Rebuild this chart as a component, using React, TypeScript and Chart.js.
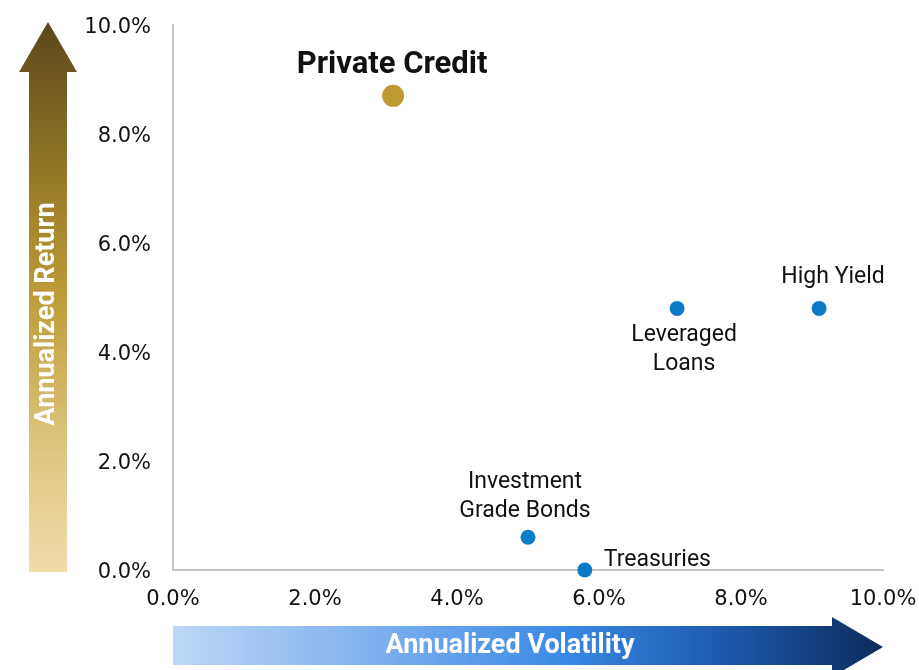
import React, { useEffect, useRef } from "react";
import { Chart, registerables } from "chart.js";

Chart.register(...registerables);

// ---- data ----
const assetNames = ["Private Credit", "Leveraged Loans", "High Yield", "Investment Grade Bonds", "Treasuries"];
const volatility = [3.1, 7.1, 9.1, 5.0, 5.8];
const annualReturn = [8.7, 4.8, 4.8, 0.6, 0.0];
const xTicks = [0, 2, 4, 6, 8, 10];
const yTicks = [0, 2, 4, 6, 8, 10];
const xTitle = "Annualized Volatility";
const yTitle = "Annualized Return";

// ---- styles ----
const labelLines: string[][] = [["Private Credit"], ["Leveraged", "Loans"], ["High Yield"], ["Investment", "Grade Bonds"], ["Treasuries"]];
const labelOffsets = [
  { dx: -1, dy: -31, align: "center" },
  { dx: 7, dy: 27, align: "center" },
  { dx: 14, dy: -31, align: "center" },
  { dx: -3, dy: -55, align: "center" },
  { dx: 19, dy: -10, align: "left" },
];
const pointColors = ["#bf9a33", "#0a7bc9", "#0a7bc9", "#0a7bc9", "#0a7bc9"];
const pointRadii = [11, 7.5, 7.5, 7.5, 7.5];
const FONT = "Roboto, 'Liberation Sans', Arial, sans-serif";
const TICK_FONT = "'DejaVu Sans', Verdana, sans-serif";

const zeroPad = (s: any) => {
  s.paddingTop = 0;
  s.paddingBottom = 0;
  s.paddingLeft = 0;
  s.paddingRight = 0;
};

const decorPlugin = {
  id: "decor",
  beforeDraw(chart: any) {
    const ctx = chart.ctx as CanvasRenderingContext2D;
    const a = chart.chartArea;
    ctx.save();
    // vertical arrow
    const vx0 = 29, vx1 = 67, hx0 = 19, hx1 = 77;
    const tipY = a.top - 3, baseY = 72, botY = a.bottom + 2;
    const vg = ctx.createLinearGradient(0, tipY, 0, botY);
    vg.addColorStop(0, "#5a481b");
    vg.addColorStop(0.3, "#9a7b28");
    vg.addColorStop(0.5, "#bf9c3a");
    vg.addColorStop(0.75, "#dcc27a");
    vg.addColorStop(1, "#efdcaa");
    ctx.fillStyle = vg;
    ctx.beginPath();
    ctx.moveTo((hx0 + hx1) / 2, tipY);
    ctx.lineTo(hx1, baseY);
    ctx.lineTo(vx1, baseY);
    ctx.lineTo(vx1, botY);
    ctx.lineTo(vx0, botY);
    ctx.lineTo(vx0, baseY);
    ctx.lineTo(hx0, baseY);
    ctx.closePath();
    ctx.fill();

    // horizontal arrow
    const sy0 = 626, sy1 = 665, hy0 = 617, hy1 = 677;
    const leftX = a.left, headX = 832, tipX = a.right;
    const hg = ctx.createLinearGradient(leftX, 0, tipX, 0);
    hg.addColorStop(0, "#bdd7f7");
    hg.addColorStop(0.25, "#86b5ef");
    hg.addColorStop(0.55, "#3a89e6");
    hg.addColorStop(0.75, "#1f5fb5");
    hg.addColorStop(1, "#0c2c5c");
    ctx.fillStyle = hg;
    ctx.beginPath();
    ctx.moveTo(tipX, (hy0 + hy1) / 2);
    ctx.lineTo(headX, hy1);
    ctx.lineTo(headX, sy1);
    ctx.lineTo(leftX, sy1);
    ctx.lineTo(leftX, sy0);
    ctx.lineTo(headX, sy0);
    ctx.lineTo(headX, hy0);
    ctx.closePath();
    ctx.fill();

    // arrow titles
    ctx.fillStyle = "#ffffff";
    ctx.font = `bold 27px ${FONT}`;
    ctx.textAlign = "center";
    ctx.textBaseline = "middle";
    ctx.fillText(xTitle, 510, 646);
    ctx.translate(47, 314);
    ctx.rotate(-Math.PI / 2);
    ctx.fillText(yTitle, 0, 0);
    ctx.restore();
  },
  afterDatasetsDraw(chart: any) {
    const ctx = chart.ctx as CanvasRenderingContext2D;
    const xs = chart.scales.x;
    const ys = chart.scales.y;
    ctx.save();
    ctx.textBaseline = "middle";
    ctx.fillStyle = "#111111";
    assetNames.forEach((_, i) => {
      const px = xs.getPixelForValue(volatility[i]);
      const py = ys.getPixelForValue(annualReturn[i]);
      const off = labelOffsets[i];
      ctx.font = i === 0 ? `bold 31px ${FONT}` : `23px ${FONT}`;
      ctx.textAlign = off.align as CanvasTextAlign;
      labelLines[i].forEach((line, j) => {
        ctx.fillText(line, px + off.dx, py + off.dy + j * 29);
      });
    });
    ctx.restore();
  },
};

export default function App() {
  const ref = useRef<HTMLCanvasElement>(null);
  useEffect(() => {
    if (!ref.current) return;
    const chart = new Chart(ref.current, {
      type: "scatter",
      data: {
        labels: assetNames,
        datasets: [
          {
            data: volatility.map((v, i) => ({ x: v, y: annualReturn[i] })),
            backgroundColor: pointColors,
            pointRadius: pointRadii,
            pointHoverRadius: pointRadii,
            borderWidth: 0,
            clip: false as any,
          },
        ],
      },
      options: {
        animation: false,
        responsive: false,
        devicePixelRatio: 1,
        layout: { padding: { top: 25, right: 36, bottom: 0, left: 0 } },
        plugins: { legend: { display: false }, tooltip: { enabled: false } },
        scales: {
          x: {
            type: "linear",
            min: 0,
            max: 10,
            afterFit: (s: any) => { s.height = 100; zeroPad(s); },
            afterBuildTicks: (s: any) => { s.ticks = xTicks.map((v) => ({ value: v })); },
            grid: { display: false, drawTicks: false },
            border: { display: true, color: "#c4c4c4", width: 2 },
            ticks: {
              padding: 17,
              color: "#111111",
              font: { family: TICK_FONT, size: 21 },
              maxRotation: 0,
              callback: (v: any) => Number(v).toFixed(1) + "%",
            },
          },
          y: {
            type: "linear",
            min: 0,
            max: 10,
            afterFit: (s: any) => { s.width = 173; zeroPad(s); },
            afterBuildTicks: (s: any) => { s.ticks = yTicks.map((v) => ({ value: v })); },
            grid: { display: false, drawTicks: false },
            border: { display: true, color: "#c4c4c4", width: 2 },
            ticks: {
              padding: 22,
              labelOffset: 3,
              color: "#111111",
              font: { family: TICK_FONT, size: 21 },
              callback: (v: any) => Number(v).toFixed(1) + "%",
            },
          },
        },
      },
      plugins: [decorPlugin],
    });
    return () => chart.destroy();
  }, []);
  return (
    <div style={{ position: "absolute", left: 0, top: 0, width: 919, height: 670 }}>
      <canvas ref={ref} width={919} height={670} />
    </div>
  );
}
